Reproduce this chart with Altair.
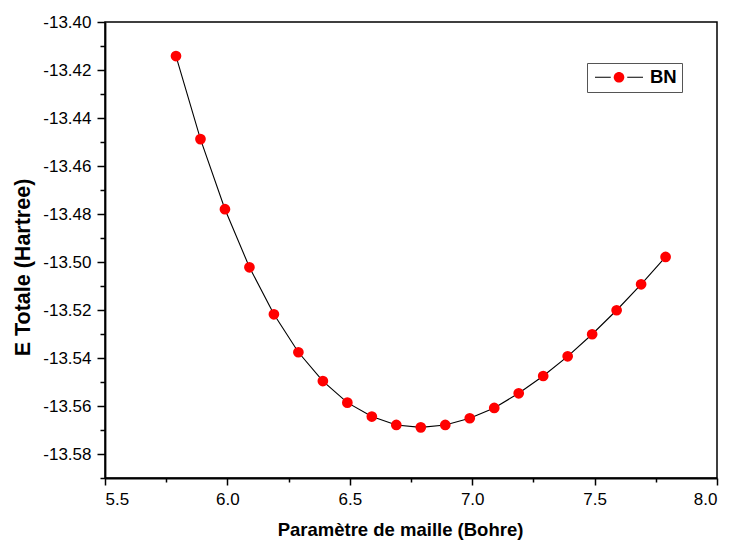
import altair as alt
import pandas as pd

a_bohr = [5.79, 5.89, 5.99, 6.09, 6.19, 6.29, 6.39, 6.49, 6.59, 6.69, 6.79,
          6.89, 6.99, 7.09, 7.19, 7.29, 7.39, 7.49, 7.59, 7.69, 7.79]
e_tot = [-13.4142, -13.4488, -13.4780, -13.5022, -13.5218, -13.5376, -13.5496,
         -13.5586, -13.5644, -13.5679, -13.5689, -13.5679, -13.5651, -13.5608,
         -13.5547, -13.5475, -13.5393, -13.5301, -13.5201, -13.5093, -13.4979]
series = ["BN"] * len(a_bohr)

x_ticks = [5.5, 5.75, 6.0, 6.25, 6.5, 6.75, 7.0, 7.25, 7.5, 7.75, 8.0]
y_ticks = [round(-13.59 + 0.01 * i, 2) for i in range(20)]

df = pd.DataFrame({"a": a_bohr, "E": e_tot, "s": series})

FONT = "Liberation Sans"

x_enc = alt.X(
    "a:Q",
    scale=alt.Scale(domain=[5.5, 8.0], nice=False, zero=False),
    axis=alt.Axis(
        title="Paramètre de maille (Bohre)",
        values=x_ticks,
        labelExpr="round(datum.value*4)%2==0 ? format(datum.value,'.1f') : ''",
        tickSize={"condition": {"test": "round(datum.value*4)%2==0", "value": 7}, "value": 4},
        labelPadding=6,
        titleFontSize=18.5,
        titleX=295,
        titleY=57,
        titleBaseline="alphabetic",
        titleAnchor="middle",
        grid=False,
    ),
)
y_enc = alt.Y(
    "E:Q",
    scale=alt.Scale(domain=[-13.59, -13.40], nice=False, zero=False),
    axis=alt.Axis(
        title="E Totale (Hartree)",
        values=y_ticks,
        labelExpr="round(datum.value*100)%2==0 ? replace(format(datum.value,'.2f'),'\u2212','-') : ''",
        tickSize={"condition": {"test": "round(datum.value*100)%2==0", "value": 8}, "value": 5},
        labelPadding=6,
        titleFontSize=21.5,
        titleX=-76,
        titleY=245,
        titleBaseline="alphabetic",
        titleAnchor="middle",
        grid=False,
    ),
)

LINE_SYMBOL = "M-1.25,0H1.9M5.2,0H8.35"
DOT_SYMBOL = "M2.49,0A1.06,1.06 0 1,0 4.61,0A1.06,1.06 0 1,0 2.49,0Z"

legend_common = dict(
    title=None,
    orient="none",
    legendX=482,
    legendY=41,
    symbolSize=100,
    labelFont=FONT,
    labelFontSize=18.5,
    labelFontWeight="bold",
    labelOffset=39.5,
    padding=5,
)

base = alt.Chart(df)

line = base.mark_line(strokeWidth=1.1, color="black").encode(
    x=x_enc,
    y=y_enc,
    color=alt.Color(
        "s:N",
        scale=alt.Scale(range=["black"]),
        legend=alt.Legend(
            symbolType=LINE_SYMBOL,
            symbolStrokeWidth=1.1,
            symbolFillColor="transparent",
            labelColor="black",
            strokeColor="#555555",
            fillColor="white",
            **legend_common,
        ),
    ),
)

points = base.mark_circle(size=115, opacity=1).encode(
    x=x_enc,
    y=y_enc,
    fill=alt.Fill(
        "s:N",
        scale=alt.Scale(range=["#ff0000"]),
        legend=alt.Legend(
            symbolType=DOT_SYMBOL,
            symbolStrokeWidth=0,
            labelOpacity=0,
            **legend_common,
        ),
    ),
)

chart = (
    alt.layer(line, points)
    .resolve_legend(color="independent", fill="independent")
    .properties(
        width=612,
        height=456,
        autosize=alt.AutoSizeParams(type="none"),
        padding={"left": 105, "top": 22, "right": 15, "bottom": 68},
    )
    .configure_view(stroke="black", strokeWidth=1.5)
    .configure_axis(
        labelFont=FONT,
        labelFontSize=17,
        labelColor="black",
        titleFont=FONT,
        titleFontWeight="bold",
        titleColor="black",
        domainColor="black",
        domainWidth=1.8,
        tickColor="black",
        tickWidth=1.5,
    )
)

chart.save("out.html", embed_options={"renderer": "svg", "actions": False})
